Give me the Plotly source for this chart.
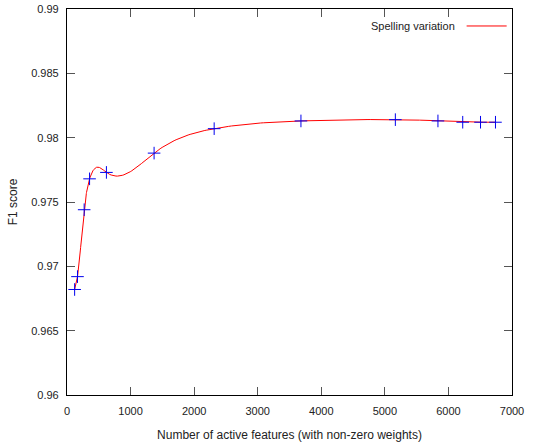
import numpy as np
import plotly.graph_objects as go

# Data
active_features = [120, 165, 270, 355, 620, 1370, 2315, 3680, 5165, 5835, 6225, 6505, 6740]
f1_score = [0.9682, 0.9692, 0.9744, 0.9768, 0.9773, 0.9788, 0.9807, 0.9813, 0.9814,
            0.9813, 0.9812, 0.9812, 0.9812]
series_name = "Spelling variation"
x_ticks = [0, 1000, 2000, 3000, 4000, 5000, 6000, 7000]
y_ticks = [0.96, 0.965, 0.97, 0.975, 0.98, 0.985, 0.99]

FONT = "Liberation Sans, Arial, sans-serif"


def natural_cubic_spline(xs, ys, n_per_seg=30):
    """Smooth curve through the data (like gnuplot's 'smooth csplines')."""
    x = np.asarray(xs, float)
    y = np.asarray(ys, float)
    n = len(x)
    h = np.diff(x)
    A = np.zeros((n, n))
    b = np.zeros(n)
    A[0, 0] = A[-1, -1] = 1.0
    for i in range(1, n - 1):
        A[i, i - 1] = h[i - 1]
        A[i, i] = 2 * (h[i - 1] + h[i])
        A[i, i + 1] = h[i]
        b[i] = 3 * ((y[i + 1] - y[i]) / h[i] - (y[i] - y[i - 1]) / h[i - 1])
    c = np.linalg.solve(A, b)
    xo, yo = [], []
    for i in range(n - 1):
        bi = (y[i + 1] - y[i]) / h[i] - h[i] * (2 * c[i] + c[i + 1]) / 3
        di = (c[i + 1] - c[i]) / (3 * h[i])
        t = np.linspace(0, h[i], n_per_seg, endpoint=(i == n - 2))
        xo.extend(x[i] + t)
        yo.extend(y[i] + bi * t + c[i] * t ** 2 + di * t ** 3)
    return xo, yo


curve_x, curve_y = natural_cubic_spline(active_features, f1_score)

fig = go.Figure()
fig.add_trace(go.Scatter(
    x=curve_x, y=curve_y, mode="lines",
    line=dict(color="#ff0000", width=1),
    showlegend=False, hoverinfo="skip"))
fig.add_trace(go.Scatter(
    x=active_features, y=f1_score, mode="markers",
    marker=dict(symbol="cross-thin", size=9, line=dict(color="#0000ee", width=1)),
    showlegend=False))

axis_common = dict(
    showgrid=False, zeroline=False, showline=True, linecolor="black", linewidth=1.2,
    mirror="ticks", ticks="inside", ticklen=8, tickcolor="#555555", tickwidth=1.2,
    tickfont=dict(family=FONT, size=11, color="#222222"), automargin=False,
)

fig.update_layout(
    width=534, height=446,
    margin=dict(l=67, r=22, t=9, b=51),
    paper_bgcolor="white", plot_bgcolor="white",
    font=dict(family=FONT, color="#222222"),
    xaxis=dict(range=[0, 7000], tickvals=x_ticks, ticktext=[str(v) for v in x_ticks],
               title=dict(text="Number of active features (with non-zero weights)",
                          font=dict(family=FONT, size=12), standoff=14),
               ticklabelstandoff=6, **axis_common),
    yaxis=dict(range=[0.96, 0.99], tickvals=y_ticks, ticktext=[f"{v:g}" for v in y_ticks],
               title=dict(text="F1 score", font=dict(family=FONT, size=12), standoff=10),
               ticklabelstandoff=5, **axis_common),
    annotations=[dict(x=0.877, y=0.956, xref="paper", yref="paper", text=series_name,
                      showarrow=False, xanchor="right", yanchor="middle",
                      font=dict(family=FONT, size=11, color="#222222"))],
    shapes=[dict(type="line", xref="paper", yref="paper", x0=0.898, x1=0.988,
                 y0=0.956, y1=0.956, line=dict(color="#ff0000", width=1))],
)

# remove the page's default 8px body margin so the figure sits at the window's corner
fig.write_html("out.html", config={"displayModeBar": False},
               post_script="document.body.style.margin='0';")
